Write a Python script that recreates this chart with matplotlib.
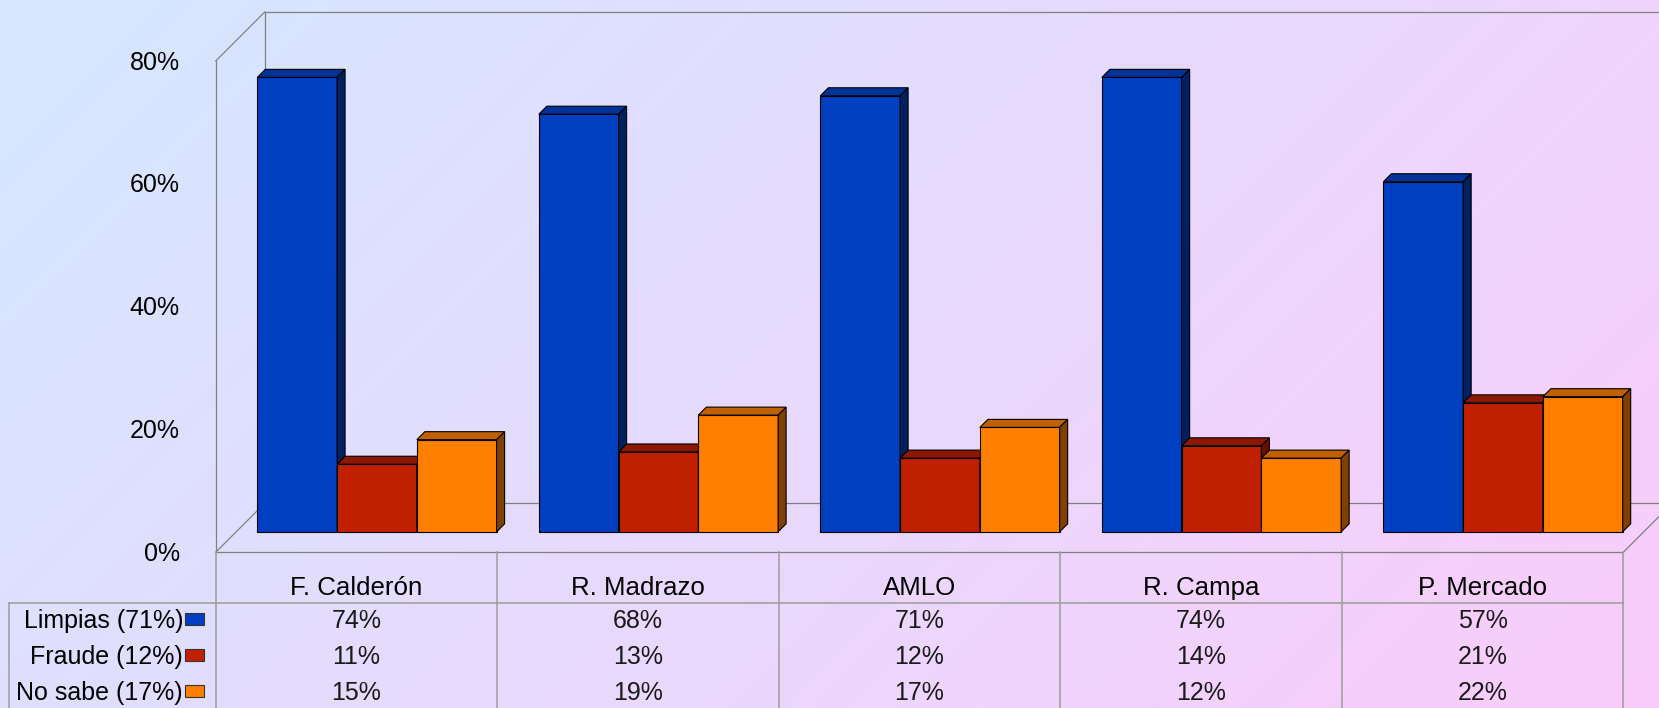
import numpy as np
import matplotlib
matplotlib.use("Agg")
import matplotlib.pyplot as plt
from matplotlib import transforms
from matplotlib.patches import Polygon, Rectangle
from matplotlib.lines import Line2D

# ---- data ----
candidates = ["F. Calderón", "R. Madrazo", "AMLO", "R. Campa", "P. Mercado"]
series_labels = ["Limpias (71%)", "Fraude (12%)", "No sabe (17%)"]
limpias = [74, 68, 71, 74, 57]
fraude = [11, 13, 12, 14, 21]
no_sabe = [15, 19, 17, 12, 22]
y_ticks = [0, 20, 40, 60, 80]
y_tick_labels = ["0%", "20%", "40%", "60%", "80%"]

series = [limpias, fraude, no_sabe]
face_colors = ["#0040C0", "#C02000", "#FF8000"]
top_colors = ["#00339A", "#8C1800", "#C06000"]
side_colors = ["#00205F", "#6A1000", "#804000"]

plt.rcParams['font.family'] = ['Liberation Sans', 'DejaVu Sans']
FS = 18
FS_CAT = 18.6

W, H, DPI = 1659, 708, 100
fig = plt.figure(figsize=(W / DPI, H / DPI), dpi=DPI)

# pixel coordinates with the origin at the top-left corner
pix = transforms.Affine2D().scale(1 / DPI, -1 / DPI).translate(0, H / DPI) + fig.dpi_scale_trans

# ---- gradient background ----
bg = fig.add_axes([0, 0, 1, 1], zorder=0)
bg.set_axis_off()
xx = np.linspace(0, 1, W)
yy = np.linspace(0, 1, H)
t = 0.7 * xx[None, :] + 0.3 * yy[:, None]
c0 = np.array([212, 232, 255]) / 255
c1 = np.array([250, 204, 250]) / 255
img = c0 + t[..., None] * (c1 - c0)
bg.imshow(img, extent=[0, 1, 0, 1], aspect='auto', origin='upper')
bg.set_xlim(0, 1)
bg.set_ylim(0, 1)

# ---- plot area (front plane of the 3D box) ----
left_px, right_px, bottom_px, top_px = 215.7, 1623.3, 552.3, 61.0
ax = fig.add_axes([left_px / W, 1 - bottom_px / H,
                   (right_px - left_px) / W, (bottom_px - top_px) / H], zorder=1)
ax.set_xlim(0, len(candidates))
ax.set_ylim(0, 80)
ax.patch.set_alpha(0)
ax.set_axis_off()

sx = ax.transData.transform((1, 0))[0] - ax.transData.transform((0, 0))[0]
sy = ax.transData.transform((0, 1))[1] - ax.transData.transform((0, 0))[1]


def depth(px):
    """Convert a depth in pixels (45 degree projection) to data offsets."""
    return px * fig.dpi / DPI / sx, px * fig.dpi / DPI / sy


n = len(candidates)
ymax = y_ticks[-1]

# box frame
D = 49
ddx, ddy = depth(D)
frame_kw = dict(color="#808080", lw=0.9, clip_on=False, zorder=1)
frame = [
    ((0, 0), (0, ymax)),
    ((0, ymax), (ddx, ymax + ddy)),
    ((ddx, ddy), (ddx, ymax + ddy)),
    ((ddx, ymax + ddy), (n + ddx, ymax + ddy)),
    ((0, 0), (ddx, ddy)),
    ((ddx, ddy), (n + ddx, ddy)),
    ((0, 0), (n, 0)),
    ((n, 0), (n + ddx, ddy)),
]
for (xa, ya), (xb, yb) in frame:
    ax.add_line(Line2D([xa, xb], [ya, yb], **frame_kw))

# ---- bars ----
group = 0.85
bw = group / 3
shift_px = 20.5
bar_tr = ax.transData + transforms.ScaledTranslation(shift_px / DPI, shift_px / DPI,
                                                      fig.dpi_scale_trans)
bdx, bdy = depth(8)
edge_kw = dict(edgecolor="black", linewidth=0.8)

x_pos = np.arange(n)
for j, vals in enumerate(series):
    lefts = x_pos + (1 - group) / 2 + j * bw
    bars = ax.bar(lefts, vals, width=bw, align='edge', color=face_colors[j],
                  transform=bar_tr, clip_on=False, **edge_kw)
    for i, (rect, v) in enumerate(zip(bars, vals)):
        z = 2 + i * 10 + j * 3
        rect.set_zorder(z)
        x0 = lefts[i]
        x1 = x0 + bw
        top = Polygon([(x0, v), (x1, v), (x1 + bdx, v + bdy), (x0 + bdx, v + bdy)],
                      closed=True, facecolor=top_colors[j], transform=bar_tr,
                      clip_on=False, zorder=z + 1, **edge_kw)
        side = Polygon([(x1, 0), (x1, v), (x1 + bdx, v + bdy), (x1 + bdx, bdy)],
                       closed=True, facecolor=side_colors[j], transform=bar_tr,
                       clip_on=False, zorder=z + 1, **edge_kw)
        ax.add_patch(top)
        ax.add_patch(side)

# ---- y tick labels ----
tick_tr = transforms.blended_transform_factory(pix, ax.transData) + \
    transforms.ScaledTranslation(0, -8.5 / DPI, fig.dpi_scale_trans)
for v, lab in zip(y_ticks, y_tick_labels):
    ax.text(180, v, lab, transform=tick_tr, ha='right', va='baseline',
            fontsize=FS, color='black', clip_on=False)

# ---- data table ----
col_tr = transforms.blended_transform_factory(ax.transData, pix)
grid_kw = dict(color="#9C9C9C", lw=1.1, clip_on=False, zorder=3)
header_y = 602.7
for k in range(n + 1):
    ax.add_line(Line2D([k, k], [bottom_px, H + 2], transform=col_tr, **grid_kw))
x_end_px = ax.transData.transform((n, 0))[0] * DPI / fig.dpi
ax.add_line(Line2D([9.3, x_end_px], [header_y, header_y], transform=pix, **grid_kw))
ax.add_line(Line2D([9.3, 9.3], [header_y, H + 2], transform=pix, **grid_kw))

for i, name in enumerate(candidates):
    ax.text(i + 0.5, 595, name, transform=col_tr, ha='center', va='baseline',
            fontsize=FS_CAT, color='black', clip_on=False)

row_baselines = [628.3, 664.0, 700.0]
for j, vals in enumerate(series):
    yb = row_baselines[j]
    for i, v in enumerate(vals):
        ax.text(i + 0.5, yb, f"{v}%", transform=col_tr, ha='center', va='baseline',
                fontsize=FS, color='#1a1a1a', clip_on=False)
    ax.text(183, yb, series_labels[j], transform=pix, ha='right', va='baseline',
            fontsize=FS, color='black', clip_on=False)
    yc = yb - 9
    ax.add_patch(Rectangle((185, yc - 6), 19, 12, transform=pix,
                           facecolor=face_colors[j], edgecolor="#333333",
                           linewidth=0.8, clip_on=False, zorder=4))

fig.savefig("out.png", dpi=DPI)
